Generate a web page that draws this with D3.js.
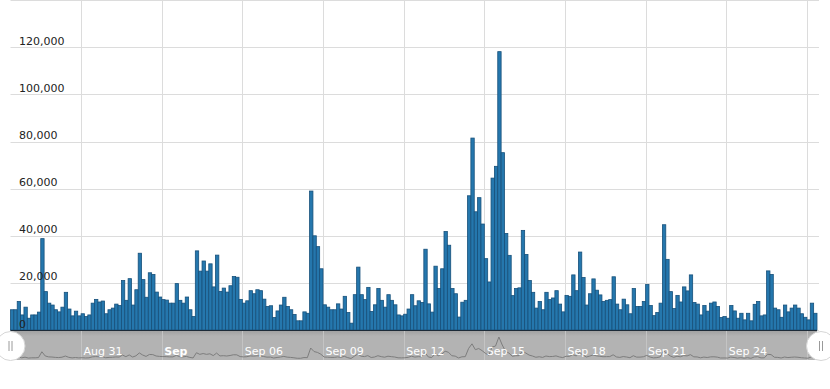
<!DOCTYPE html>
<html>
<head>
<meta charset="utf-8">
<script src="https://cdn.jsdelivr.net/npm/d3@7"></script>
<style>
  html, body { margin: 0; padding: 0; background: #fff; }
  #chart { width: 830px; height: 389px; }
  text { font-family: "DejaVu Sans", Verdana, sans-serif; font-size: 11px; }
</style>
</head>
<body>
<div id="chart"></div>
<script>
// 3-hourly counts, first bar at Aug 28 09:00
const startTime = new Date(2015, 7, 28, 9);
const stepHours = 3;
const values = [
  8600, 8600, 12100, 6400, 9700, 5000, 6400, 6400, 7600, 38800,
  16300, 11400, 10600, 8600, 7700, 9700, 16000, 8900, 6000, 8000,
  6000, 6900, 5700, 6400, 11400, 13000, 11900, 12300, 6900, 8600,
  9300, 11000, 10400, 21000, 12600, 21800, 10600, 17100, 32600, 21400,
  13900, 24300, 23600, 16100, 14000, 12900, 12700, 11400, 11400, 19700,
  12600, 11400, 14000, 8600, 5700, 33600, 25000, 29300, 25000, 28100,
  18300, 31800, 16400, 17800, 16100, 18800, 22700, 22400, 13000, 11400,
  12400, 16700, 15400, 17100, 16700, 13100, 10000, 10300, 5300, 8100,
  10600, 13900, 10000, 8600, 6600, 3900, 3900, 7700, 7100, 59000,
  40000, 35400, 26000, 10700, 9700, 8600, 8600, 11100, 8900, 14300,
  7400, 2900, 15000, 26700, 15000, 12900, 18100, 7900, 10700, 17600,
  12600, 9700, 15000, 12600, 10700, 6400, 6000, 6700, 8900, 15000,
  10300, 12400, 11700, 34300, 11100, 7600, 27100, 17600, 26000, 41800,
  36000, 17600, 15400, 5500, 11800, 12600, 57000, 81500, 50200, 56200,
  45000, 30300, 20400, 64500, 69500, 118200, 75300, 41000, 31700, 14600,
  17600, 17900, 42300, 32100, 21000, 16000, 9300, 12100, 8600, 16000,
  12900, 13600, 16700, 11000, 7700, 14700, 14300, 23400, 16700, 33100,
  22300, 10600, 15400, 21700, 16900, 14900, 12100, 12600, 12900, 22600,
  11000, 8600, 13100, 10700, 6900, 17600, 10000, 10000, 12100, 19300,
  10400, 6100, 7400, 11400, 44700, 30000, 16300, 9100, 14700, 11900,
  18300, 16600, 23400, 11700, 11000, 6400, 10400, 8000, 11400, 11900,
  10000, 5300, 5700, 5000, 10400, 8100, 5000, 7100, 4300, 7100,
  3900, 10900, 12100, 6000, 6400, 25100, 23600, 9300, 8600, 5400,
  10600, 7700, 9300, 10600, 9300, 6900, 5400, 4300, 11400, 7100
];
const tickDates = ['2015-08-31', '2015-09-03', '2015-09-06', '2015-09-09', '2015-09-12',
                   '2015-09-15', '2015-09-18', '2015-09-21', '2015-09-24', '2015-09-27'];
const tickLabels = ['Aug 31', 'Sep', 'Sep 06', 'Sep 09', 'Sep 12', 'Sep 15', 'Sep 18', 'Sep 21', 'Sep 24', ''];
const boldLabels = ['Sep'];

const chart = () => {
  const width = 830;
  const height = 389;
  const left = 10.5, right = 817;
  const plotBottom = 330, plotTop = 0.3;
  const sbTop = 331, sbBottom = 360;

  const data = values.map((v, i) => ({
    date: d3.timeHour.offset(startTime, i * stepHours),
    value: v
  }));
  const parse = d3.timeParse('%Y-%m-%d');
  const ticks = tickDates.map((d, i) => ({ date: parse(d), label: tickLabels[i] }));

  const x = d3.scaleTime()
    .domain([startTime, d3.timeHour.offset(startTime, values.length * stepHours)])
    .range([left, right]);
  const y = d3.scaleLinear()
    .domain([0, 140000])
    .range([plotBottom, plotTop]);
  const ySb = d3.scaleLinear()
    .domain([0, d3.max(values)])
    .range([sbBottom - 1, sbTop + 6]);
  const format = d3.format(',');

  const svg = d3.select('#chart')
    .append('svg')
    .attr('width', width)
    .attr('height', height);

  // horizontal grid
  svg.append('g')
    .selectAll('line')
    .data(y.ticks(7))
    .join('line')
    .attr('x1', left)
    .attr('x2', right + 2)
    .attr('y1', d => Math.round(y(d)) + 0.5)
    .attr('y2', d => Math.round(y(d)) + 0.5)
    .attr('stroke', '#dcdcdc');

  // vertical grid
  svg.append('g')
    .selectAll('line')
    .data(ticks)
    .join('line')
    .attr('x1', d => Math.round(x(d.date)) + 0.5)
    .attr('x2', d => Math.round(x(d.date)) + 0.5)
    .attr('y1', 0)
    .attr('y2', plotBottom)
    .attr('stroke', '#dcdcdc');

  // bars
  svg.append('g')
    .selectAll('rect')
    .data(data)
    .join('rect')
    .attr('x', d => x(d.date))
    .attr('y', d => y(d.value))
    .attr('width', d => x(d3.timeHour.offset(d.date, stepHours)) - x(d.date))
    .attr('height', d => y(0) - y(d.value))
    .attr('fill', '#2577ad')
    .attr('stroke', '#17507a')
    .attr('stroke-width', 0.8);

  // axis line
  svg.append('line')
    .attr('x1', left)
    .attr('x2', right)
    .attr('y1', plotBottom + 0.5)
    .attr('y2', plotBottom + 0.5)
    .attr('stroke', '#1d2b38');

  // value labels inside plot
  svg.append('g')
    .selectAll('text')
    .data(y.ticks(7).filter(d => y(d) > 12))
    .join('text')
    .attr('x', 19)
    .attr('y', d => y(d) - 2.5)
    .attr('fill', '#222')
    .text(d => format(d));

  // scrollbar
  const defs = svg.append('defs');
  const grad = defs.append('linearGradient')
    .attr('id', 'sb-grad')
    .attr('x1', 0).attr('x2', 0).attr('y1', 0).attr('y2', 1);
  grad.append('stop').attr('offset', '0%').attr('stop-color', '#a2a2a2');
  grad.append('stop').attr('offset', '18%').attr('stop-color', '#b3b3b3');
  grad.append('stop').attr('offset', '100%').attr('stop-color', '#b3b3b3');

  svg.append('rect')
    .attr('x', left)
    .attr('y', sbTop)
    .attr('width', right - left)
    .attr('height', sbBottom - sbTop)
    .attr('fill', 'url(#sb-grad)');

  svg.append('g')
    .selectAll('line')
    .data(ticks)
    .join('line')
    .attr('x1', d => Math.round(x(d.date)) + 0.5)
    .attr('x2', d => Math.round(x(d.date)) + 0.5)
    .attr('y1', sbTop)
    .attr('y2', sbBottom)
    .attr('stroke', '#c4c4c4');

  const line = d3.line()
    .x(d => x(d3.timeHour.offset(d.date, stepHours / 2)))
    .y(d => ySb(d.value));
  svg.append('path')
    .datum(data)
    .attr('d', line)
    .attr('fill', 'none')
    .attr('stroke', '#7d7d7d')
    .attr('stroke-width', 1);

  svg.append('g')
    .selectAll('text')
    .data(ticks)
    .join('text')
    .attr('x', d => x(d.date) + 2.5)
    .attr('y', 355)
    .attr('fill', '#fff')
    .attr('font-weight', d => boldLabels.includes(d.label) ? 'bold' : 'normal')
    .text(d => d.label);

  // grips
  const grips = svg.append('g')
    .selectAll('g')
    .data([left, right + 4])
    .join('g')
    .attr('transform', d => `translate(${d},346)`);
  grips.append('circle')
    .attr('r', 14.5)
    .attr('fill', '#fff')
    .attr('stroke', '#d6d6d6');
  grips.append('path')
    .attr('d', 'M-1.5,-5V5M1.5,-5V5')
    .attr('stroke', '#9a9a9a')
    .attr('stroke-width', 1);
}

chart();
</script>
</body>
</html>
